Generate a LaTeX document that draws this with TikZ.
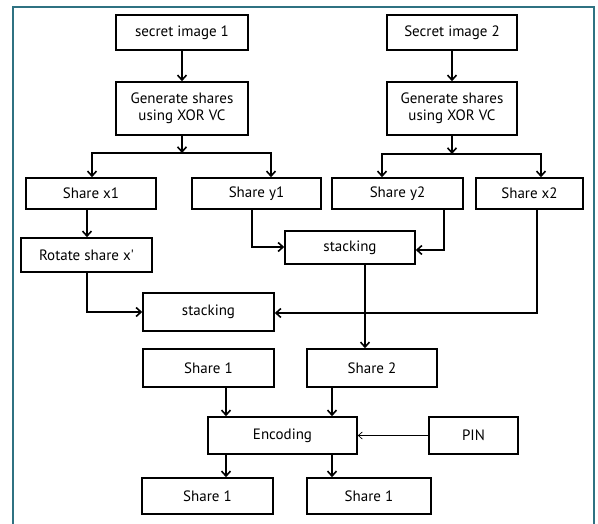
\documentclass[tikz,border=0pt]{standalone}
\usepackage{fontspec}
\setmainfont{PT Sans}
\usetikzlibrary{arrows.meta,shadows}
\definecolor{frame}{HTML}{2F7282}
\tikzset{
  x=1pt,y=-1pt,
  box/.style={draw=black,line width=1.5pt,fill=white,inner sep=0pt,font=\fontsize{15}{17}\selectfont,align=center,
    drop shadow={opacity=0.25,shadow xshift=1.2pt,shadow yshift=-1.2pt}},
  conn/.style={line width=1.6pt,-{Straight Barb[length=5pt,width=9pt,line width=1.6pt]}},
  thinconn/.style={line width=0.7pt,-{Straight Barb[length=4pt,width=7pt]}},
}
\newcommand{\bx}[6]{\node[box,minimum width=#4-#2,minimum height=#5-#3] (#1) at ({(#2+#4)/2},{(#3+#5)/2}) {#6};}
\begin{document}
\begin{tikzpicture}
\useasboundingbox (0,0) rectangle (598,524);
\draw[frame,line width=2pt] (12.5,530) -- (12.5,7.5) -- (594,7.5) -- (594,530);
\bx{s1}{116}{15}{248}{50}{secret image  1}
\bx{g1}{116}{82}{248}{135}{Generate shares\\using XOR VC}
\bx{s2}{387}{15}{517}{50}{Secret image  2}
\bx{g2}{387}{82}{517}{135}{Generate shares\\using XOR VC}
\bx{x1}{26}{178}{156}{209}{Share x1}
\bx{y1}{192}{178}{321}{209}{Share y1}
\bx{y2}{332}{178}{463}{209}{Share  y2}
\bx{x2}{476}{178}{583}{209}{Share x2}
\bx{rot}{21}{238}{152}{272}{Rotate share x\textquotesingle}
\bx{st1}{285}{231}{415}{264}{stacking}
\bx{st2}{143}{293}{274}{331}{stacking}
\bx{sh1}{143}{349}{274}{387}{Share 1}
\bx{sh2}{307}{349}{437}{387}{Share 2}
\bx{enc}{208}{417}{357}{454}{Encoding}
\bx{pin}{429}{417}{518}{454}{PIN}
\bx{o1}{142}{478}{273}{514}{Share 1}
\bx{o2}{307}{478}{431}{514}{Share 1}
% connectors
\draw[conn] (s1) -- (g1);
\draw[conn] (s2) -- (g2);
\coordinate (b1) at (182,153);
\coordinate (b2) at (452,154);
\draw[conn] (g1.south) -- (b1);
\draw[conn] (g2.south -| b2) -- (b2);
\draw[conn] (b1) -| (x1.north -| 92,0);
\draw[conn] (b1) -| (y1.north -| 271,0);
\draw[conn] (b2) -| (y2.north -| 382,0);
\draw[conn] (b2) -| (x2.north -| 541,0);
\draw[conn] (x1.south -| 87,0) -- (rot.north -| 87,0);
\draw[conn] (y1.south -| 252,0) |- (st1.west |- 0,247);
\draw[conn] (y2.south -| 444,0) |- (st1.east |- 0,250);
\draw[conn] (rot.south -| 87,0) |- (st2.west |- 0,312);
\draw[conn] (x2.south -| 537,0) |- (st2.east |- 0,313);
\draw[conn] (st1.south -| 365,0) -- (sh2.north -| 365,0);
\draw[conn] (sh1.south -| 226,0) -- (enc.north -| 226,0);
\draw[conn] (sh2.south -| 332,0) -- (enc.north -| 332,0);
\draw[thinconn] (pin.west) -- (enc.east);
\draw[conn] (enc.south -| 226,0) -- (o1.north -| 226,0);
\draw[conn] (enc.south -| 332,0) -- (o2.north -| 332,0);
\end{tikzpicture}
\end{document}
